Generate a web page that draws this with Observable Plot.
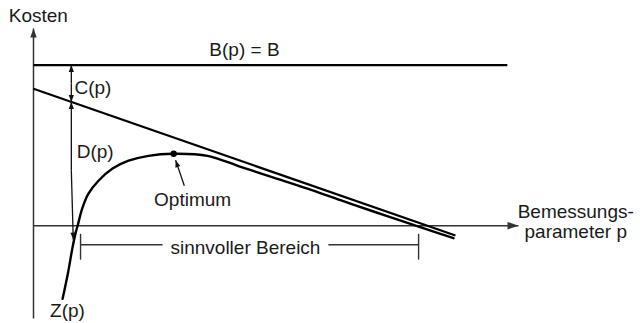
<!DOCTYPE html>
<html><head><meta charset="utf-8">
<script src="https://cdn.jsdelivr.net/npm/d3@7"></script>
<script src="https://cdn.jsdelivr.net/npm/@observablehq/plot@0.6"></script>
<style>body{margin:0;background:#fff}</style>
</head><body><div id="chart"></div>
<script>
// Schematic values (abstract units): p in [0,100], Kosten in [-32,68]
const budgetY = 55.4;           // B(p) = B
const budgetXEnd = 97.7;
const costLineX = [0, 87.0];    // B - C(p)
const costLineY = [47.2, -3.4];
const curveX = [6.0, 7.2, 8.0, 8.7, 9.1, 10.1, 11.3, 13.4, 16.3, 19.6, 23.7, 28.9, 35.9, 42.7, 49.5, 56.5, 63.3, 70.1, 77.1, 83.9, 86.6];
const curveY = [-25.2, -15.5, -7.9, -2.4, 0, 6.2, 11.0, 15.5, 19.7, 22.4, 24.1, 24.8, 24.1, 20.3, 16.6, 12.8, 8.8, 4.9, 1.0, -2.8, -4.3];
const optimumX = [28.9];
const optimumY = [24.8];
const rangeX = [9.7, 79.4];     // sinnvoller Bereich
const rangeGap = [26.6, 60.8];
const rangeY = -6.55;
const labelText = ["Kosten", "B(p) = B", "C(p)", "D(p)", "Optimum", "sinnvoller Bereich", "Z(p)", "Bemessungs-\nparameter p"];
const labelX = [1.0, 43.5, 8.45, 8.9, 32.8, 43.7, 7.0, 111.8];
const labelY = [70.3, 58.6, 45.5, 23.4, 6.9, -9.7, -31.4, -4.1];
const labelAnchor = ["middle", "middle", "start", "start", "middle", "middle", "middle", "middle"];

const xDomain = [0, 100], yDomain = [-32, 68];
const W = 640, H = 323, mL = 33, mR = 122, mT = 28, mB = 5;
const X = Plot.scale({x: {domain: xDomain, range: [mL, W - mR]}});
const Y = Plot.scale({y: {domain: yDomain, range: [H - mB, mT]}});

function head(dx, dy, L, Wd) {
  const n = Math.hypot(dx, dy), ux = dx / n, uy = dy / n;
  return {draw(ctx) {
    ctx.moveTo(0, 0);
    ctx.lineTo(-L * ux - Wd * uy, -L * uy + Wd * ux);
    ctx.lineTo(-L * ux + Wd * uy, -L * uy - Wd * ux);
    ctx.closePath();
  }};
}
function arrow(x1, y1, x2, y2, opts) {
  const {L = 7, Wd = 2.6, stroke = "#111", strokeWidth = 1.3} = opts || {};
  const dx = X.apply(x2) - X.apply(x1), dy = Y.apply(y2) - Y.apply(y1);
  return [
    Plot.link([0], {x1: [x1], y1: [y1], x2: [x2], y2: [y2], stroke, strokeWidth}),
    Plot.dot([0], {x: [x2], y: [y2], symbol: head(dx, dy, L, Wd), fill: stroke, stroke: "none", r: 3})
  ];
}

const arrowX = 7.8;
const lineAtArrow = costLineY[0] + (costLineY[1] - costLineY[0]) / (costLineX[1] - costLineX[0]) * (arrowX - costLineX[0]);
const cMid = (budgetY + lineAtArrow) / 2;
const dMid = (lineAtArrow + -4.8) / 2;

const idx = d3.range(curveX.length);
const labIdx = d3.range(labelText.length);
const rangeIdx = [0];

const textMarks = ["start", "middle"].map(anchor => Plot.text(labIdx.filter(i => labelAnchor[i] === anchor), {
  x: i => labelX[i], y: i => labelY[i], text: i => labelText[i],
  textAnchor: anchor, lineAnchor: "bottom", lineHeight: 1.05,
  fontSize: 19, fill: "#1a1a1a"
}));

const chart = Plot.plot({
  width: W, height: H,
  marginLeft: mL, marginRight: mR, marginTop: mT, marginBottom: mB,
  x: {domain: xDomain, axis: null},
  y: {domain: yDomain, axis: null},
  style: {fontFamily: "'Liberation Sans', Arial, sans-serif", background: "#fff", overflow: "visible"},
  marks: [
    // axes
    ...arrow(0, yDomain[0], 0, yDomain[1], {L: 9, Wd: 3.2, stroke: "#333", strokeWidth: 1.5}),
    ...arrow(0, 0, xDomain[1], 0, {L: 11, Wd: 3.8, stroke: "#333", strokeWidth: 1.5}),
    // B(p) = B
    Plot.link([0], {x1: [0], y1: [budgetY], x2: [budgetXEnd], y2: [budgetY], stroke: "#000", strokeWidth: 2.2}),
    // cost line
    Plot.link([0], {x1: [costLineX[0]], y1: [costLineY[0]], x2: [costLineX[1]], y2: [costLineY[1]], stroke: "#000", strokeWidth: 2.2}),
    // Z(p)
    Plot.line(idx, {x: i => curveX[i], y: i => curveY[i], curve: "catmull-rom", stroke: "#000", strokeWidth: 2.4}),
    Plot.dot(optimumX.map((x, i) => i), {x: i => optimumX[i], y: i => optimumY[i], r: 3.2, fill: "#000", stroke: "none"}),
    // C(p) and D(p) double arrows
    ...arrow(arrowX, cMid, arrowX, budgetY, {L: 7, Wd: 2.6}),
    ...arrow(arrowX, cMid, arrowX, lineAtArrow, {L: 7, Wd: 2.6}),
    ...arrow(arrowX, dMid, arrowX, lineAtArrow, {L: 7, Wd: 2.6}),
    ...arrow(arrowX, dMid, 8.2, -4.8, {L: 7, Wd: 2.6}),
    // Optimum pointer
    ...arrow(31.1, 13.8, 29.3, 22.6, {L: 7, Wd: 2.6, strokeWidth: 1.3}),
    // sinnvoller Bereich bracket
    Plot.link(rangeIdx, {x1: () => rangeX[0], y1: () => rangeY, x2: () => rangeGap[0], y2: () => rangeY, stroke: "#333", strokeWidth: 1.4}),
    Plot.link(rangeIdx, {x1: () => rangeGap[1], y1: () => rangeY, x2: () => rangeX[1], y2: () => rangeY, stroke: "#333", strokeWidth: 1.4}),
    Plot.link(rangeX, {x1: d => d, x2: d => d, y1: () => -2.8, y2: () => -11.7, stroke: "#333", strokeWidth: 1.4}),
    // labels
    ...textMarks
  ]
});
document.getElementById("chart").appendChild(chart);
</script>
</body></html>
